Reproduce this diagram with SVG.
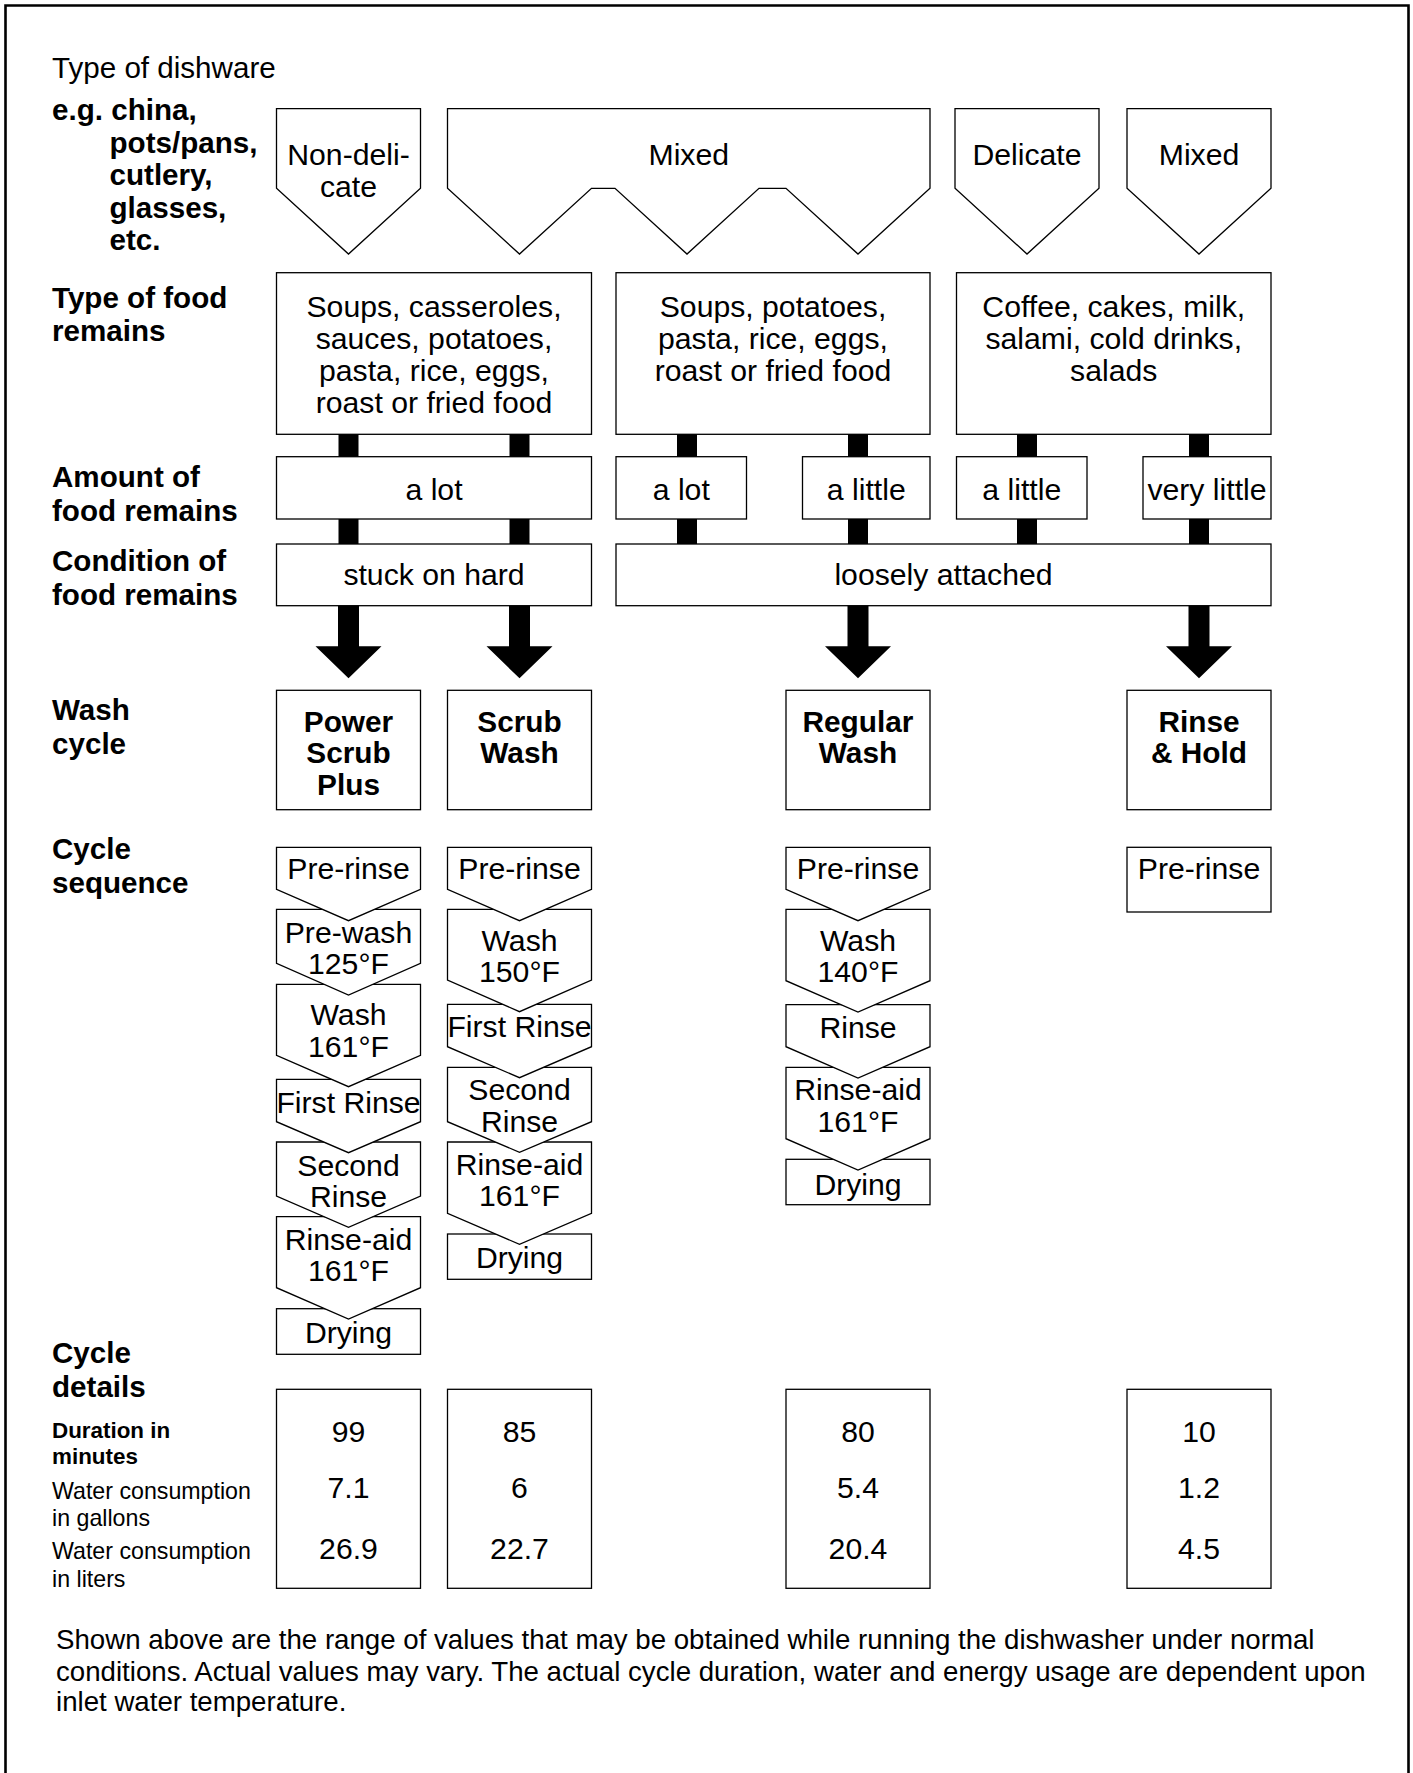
<svg xmlns="http://www.w3.org/2000/svg" width="1413" height="1773" viewBox="0 0 1413 1773">
<style>
text{font-family:"Liberation Sans",Arial,Helvetica,sans-serif;fill:#000}
.b{fill:#fff;stroke:#000;stroke-width:1.3}
.t{font-size:30.2px;text-anchor:middle}
.tb{font-size:29.8px;text-anchor:middle;font-weight:bold}
.l{font-size:29.6px;font-weight:bold}
.lr{font-size:29.6px}
.sb{font-size:22.4px;font-weight:bold}
.sr{font-size:23.2px}
.f{font-size:27.65px}
.k{fill:#000}
</style>
<rect width="1413" height="1773" fill="#fff"/>
<path d="M5.5,1780 V5.5 H1408.5 V1780" fill="none" stroke="#000" stroke-width="2.6"/>

<g id="row-labels">
<text class="lr" x="52" y="77.5">Type of dishware</text>
<text class="l" x="52" y="120">e.g. china,</text>
<text class="l" x="109.5" y="152.5">pots/pans,</text>
<text class="l" x="109.5" y="185">cutlery,</text>
<text class="l" x="109.5" y="217.5">glasses,</text>
<text class="l" x="109.5" y="250">etc.</text>
<text class="l" x="52" y="307.5">Type of food</text>
<text class="l" x="52" y="340.5">remains</text>
<text class="l" x="52" y="487">Amount of</text>
<text class="l" x="52" y="520.5">food remains</text>
<text class="l" x="52" y="571">Condition of</text>
<text class="l" x="52" y="604.5">food remains</text>
<text class="l" x="52" y="719.5">Wash</text>
<text class="l" x="52" y="753.5">cycle</text>
<text class="l" x="52" y="858.5">Cycle</text>
<text class="l" x="52" y="893">sequence</text>
<text class="l" x="52" y="1362.5">Cycle</text>
<text class="l" x="52" y="1396.5">details</text>
<text class="sb" x="52" y="1438">Duration in</text>
<text class="sb" x="52" y="1464">minutes</text>
<text class="sr" x="52" y="1498.5">Water consumption</text>
<text class="sr" x="52" y="1525.5">in gallons</text>
<text class="sr" x="52" y="1559">Water consumption</text>
<text class="sr" x="52" y="1586.5">in liters</text>
</g>

<g id="dish-nondelicate"><polygon class="b" points="276.5,108.7 420.5,108.7 420.5,188.3 348.5,254 276.5,188.3"/><text class="t" x="348.5" y="164.5">Non-deli-</text><text class="t" x="348.5" y="196.5">cate</text></g>
<g id="dish-mixed-1"><polygon class="b" points="447.5,108.7 930,108.7 930,188.3 858,254 786,188.3 759,188.3 687,254 615,188.3 591.5,188.3 519.5,254 447.5,188.3"/><text class="t" x="688.75" y="164.5">Mixed</text></g>
<g id="dish-delicate"><polygon class="b" points="955,108.7 1099,108.7 1099,188.3 1027,254 955,188.3"/><text class="t" x="1027" y="164.5">Delicate</text></g>
<g id="dish-mixed-2"><polygon class="b" points="1127,108.7 1271,108.7 1271,188.3 1199,254 1127,188.3"/><text class="t" x="1199" y="164.5">Mixed</text></g>

<g id="food-1"><rect class="b" x="276.5" y="272.7" width="315" height="161.6"/><text class="t" x="434" y="317.3">Soups, casseroles,</text><text class="t" x="434" y="349.3">sauces, potatoes,</text><text class="t" x="434" y="380.7">pasta, rice, eggs,</text><text class="t" x="434" y="412.7">roast or fried food</text></g>
<g id="food-2"><rect class="b" x="616" y="272.7" width="314" height="161.6"/><text class="t" x="773" y="317.3">Soups, potatoes,</text><text class="t" x="773" y="349.3">pasta, rice, eggs,</text><text class="t" x="773" y="380.7">roast or fried food</text></g>
<g id="food-3"><rect class="b" x="956.5" y="272.7" width="314.5" height="161.6"/><text class="t" x="1113.75" y="317.3">Coffee, cakes, milk,</text><text class="t" x="1113.75" y="349.3">salami, cold drinks,</text><text class="t" x="1113.75" y="380.7">salads</text></g>

<g id="amount-1"><rect class="b" x="276.5" y="456.7" width="315" height="62.3"/><text class="t" x="434" y="500">a lot</text></g>
<g id="amount-2"><rect class="b" x="616" y="456.7" width="130.5" height="62.3"/><text class="t" x="681.25" y="500">a lot</text></g>
<g id="amount-3"><rect class="b" x="802.5" y="456.7" width="127.5" height="62.3"/><text class="t" x="866.25" y="500">a little</text></g>
<g id="amount-4"><rect class="b" x="956.5" y="456.7" width="130.5" height="62.3"/><text class="t" x="1021.75" y="500">a little</text></g>
<g id="amount-5"><rect class="b" x="1143" y="456.7" width="128" height="62.3"/><text class="t" x="1207" y="500">very little</text></g>

<g id="cond-1"><rect class="b" x="276.5" y="544" width="315" height="61.7"/><text class="t" x="434" y="585">stuck on hard</text></g>
<g id="cond-2"><rect class="b" x="616" y="544" width="655" height="61.7"/><text class="t" x="943.5" y="585">loosely attached</text></g>

<g id="connectors">
<rect class="k" x="338.5" y="434.3" width="20" height="22.4"/>
<rect class="k" x="509.5" y="434.3" width="20" height="22.4"/>
<rect class="k" x="677" y="434.3" width="20" height="22.4"/>
<rect class="k" x="848" y="434.3" width="20" height="22.4"/>
<rect class="k" x="1017" y="434.3" width="20" height="22.4"/>
<rect class="k" x="1189" y="434.3" width="20" height="22.4"/>
<rect class="k" x="338.5" y="519" width="20" height="25"/>
<rect class="k" x="509.5" y="519" width="20" height="25"/>
<rect class="k" x="677" y="519" width="20" height="25"/>
<rect class="k" x="848" y="519" width="20" height="25"/>
<rect class="k" x="1017" y="519" width="20" height="25"/>
<rect class="k" x="1189" y="519" width="20" height="25"/>
<path class="k" d="M338,605.7 H359 V646.3 H381.5 L348.5,678.3 L315.5,646.3 H338 Z"/>
<path class="k" d="M509,605.7 H530 V646.3 H552.5 L519.5,678.3 L486.5,646.3 H509 Z"/>
<path class="k" d="M847.5,605.7 H868.5 V646.3 H891 L858,678.3 L825,646.3 H847.5 Z"/>
<path class="k" d="M1188.5,605.7 H1209.5 V646.3 H1232 L1199,678.3 L1166,646.3 H1188.5 Z"/>
</g>

<g id="cycle-power-scrub-plus"><rect class="b" x="276.5" y="690.3" width="144" height="119.4"/><text class="tb" x="348.5" y="731.7">Power</text><text class="tb" x="348.5" y="763.3">Scrub</text><text class="tb" x="348.5" y="795">Plus</text></g>
<g id="cycle-scrub-wash"><rect class="b" x="447.5" y="690.3" width="144" height="119.4"/><text class="tb" x="519.5" y="731.7">Scrub</text><text class="tb" x="519.5" y="763.3">Wash</text></g>
<g id="cycle-regular-wash"><rect class="b" x="786" y="690.3" width="144" height="119.4"/><text class="tb" x="858" y="731.7">Regular</text><text class="tb" x="858" y="763.3">Wash</text></g>
<g id="cycle-rinse-hold"><rect class="b" x="1127" y="690.3" width="144" height="119.4"/><text class="tb" x="1199" y="731.7">Rinse</text><text class="tb" x="1199" y="763.3">&amp; Hold</text></g>

<g id="seqA-drying"><rect class="b" x="276.5" y="1308.7" width="144" height="45.6"/><text class="t" x="348.5" y="1343.3">Drying</text></g>
<g id="seqA-rinseaid"><polygon class="b" points="276.5,1216.7 420.5,1216.7 420.5,1287.7 348.5,1319 276.5,1287.7"/><text class="t" x="348.5" y="1250">Rinse-aid</text><text class="t" x="348.5" y="1281">161°F</text></g>
<g id="seqA-second"><polygon class="b" points="276.5,1142 420.5,1142 420.5,1196 348.5,1227.3 276.5,1196"/><text class="t" x="348.5" y="1176">Second</text><text class="t" x="348.5" y="1207.3">Rinse</text></g>
<g id="seqA-first"><polygon class="b" points="276.5,1079.3 420.5,1079.3 420.5,1121.7 348.5,1152.7 276.5,1121.7"/><text class="t" x="348.5" y="1113.3">First Rinse</text></g>
<g id="seqA-wash"><polygon class="b" points="276.5,984.3 420.5,984.3 420.5,1055.3 348.5,1086.7 276.5,1055.3"/><text class="t" x="348.5" y="1025">Wash</text><text class="t" x="348.5" y="1056.7">161°F</text></g>
<g id="seqA-prewash"><polygon class="b" points="276.5,909.3 420.5,909.3 420.5,963.3 348.5,995 276.5,963.3"/><text class="t" x="348.5" y="942.7">Pre-wash</text><text class="t" x="348.5" y="974">125°F</text></g>
<g id="seqA-prerinse"><polygon class="b" points="276.5,847.3 420.5,847.3 420.5,889.3 348.5,920.7 276.5,889.3"/><text class="t" x="348.5" y="879.3">Pre-rinse</text></g>

<g id="seqB-drying"><rect class="b" x="447.5" y="1234" width="144" height="45.3"/><text class="t" x="519.5" y="1268.3">Drying</text></g>
<g id="seqB-rinseaid"><polygon class="b" points="447.5,1142 591.5,1142 591.5,1213.3 519.5,1244.3 447.5,1213.3"/><text class="t" x="519.5" y="1175">Rinse-aid</text><text class="t" x="519.5" y="1206">161°F</text></g>
<g id="seqB-second"><polygon class="b" points="447.5,1067.3 591.5,1067.3 591.5,1121.7 519.5,1152.3 447.5,1121.7"/><text class="t" x="519.5" y="1100">Second</text><text class="t" x="519.5" y="1131.7">Rinse</text></g>
<g id="seqB-first"><polygon class="b" points="447.5,1004.3 591.5,1004.3 591.5,1046.7 519.5,1077.7 447.5,1046.7"/><text class="t" x="519.5" y="1037.3">First Rinse</text></g>
<g id="seqB-wash"><polygon class="b" points="447.5,909.3 591.5,909.3 591.5,980 519.5,1011.7 447.5,980"/><text class="t" x="519.5" y="950.7">Wash</text><text class="t" x="519.5" y="982">150°F</text></g>
<g id="seqB-prerinse"><polygon class="b" points="447.5,847.3 591.5,847.3 591.5,889.3 519.5,920.7 447.5,889.3"/><text class="t" x="519.5" y="879.3">Pre-rinse</text></g>

<g id="seqC-drying"><rect class="b" x="786" y="1159.3" width="144" height="45.4"/><text class="t" x="858" y="1195">Drying</text></g>
<g id="seqC-rinseaid"><polygon class="b" points="786,1067.3 930,1067.3 930,1138.7 858,1170 786,1138.7"/><text class="t" x="858" y="1100">Rinse-aid</text><text class="t" x="858" y="1131.7">161°F</text></g>
<g id="seqC-rinse"><polygon class="b" points="786,1004.7 930,1004.7 930,1046.7 858,1078 786,1046.7"/><text class="t" x="858" y="1038.3">Rinse</text></g>
<g id="seqC-wash"><polygon class="b" points="786,909.3 930,909.3 930,980.7 858,1012 786,980.7"/><text class="t" x="858" y="950.7">Wash</text><text class="t" x="858" y="981.7">140°F</text></g>
<g id="seqC-prerinse"><polygon class="b" points="786,847.3 930,847.3 930,889.3 858,920.7 786,889.3"/><text class="t" x="858" y="879.3">Pre-rinse</text></g>

<g id="seqD-prerinse"><rect class="b" x="1127" y="847.3" width="144" height="64.7"/><text class="t" x="1199" y="879.3">Pre-rinse</text></g>

<g id="details-A"><rect class="b" x="276.5" y="1389.3" width="144" height="199"/><text class="t" x="348.5" y="1441.7">99</text><text class="t" x="348.5" y="1498">7.1</text><text class="t" x="348.5" y="1559">26.9</text></g>
<g id="details-B"><rect class="b" x="447.5" y="1389.3" width="144" height="199"/><text class="t" x="519.5" y="1441.7">85</text><text class="t" x="519.5" y="1498">6</text><text class="t" x="519.5" y="1559">22.7</text></g>
<g id="details-C"><rect class="b" x="786" y="1389.3" width="144" height="199"/><text class="t" x="858" y="1441.7">80</text><text class="t" x="858" y="1498">5.4</text><text class="t" x="858" y="1559">20.4</text></g>
<g id="details-D"><rect class="b" x="1127" y="1389.3" width="144" height="199"/><text class="t" x="1199" y="1441.7">10</text><text class="t" x="1199" y="1498">1.2</text><text class="t" x="1199" y="1559">4.5</text></g>

<g id="footer">
<text class="f" x="56" y="1649">Shown above are the range of values that may be obtained while running the dishwasher under normal</text>
<text class="f" x="56" y="1680.5">conditions. Actual values may vary. The actual cycle duration, water and energy usage are dependent upon</text>
<text class="f" x="56" y="1710.5">inlet water temperature.</text>
</g>
</svg>
